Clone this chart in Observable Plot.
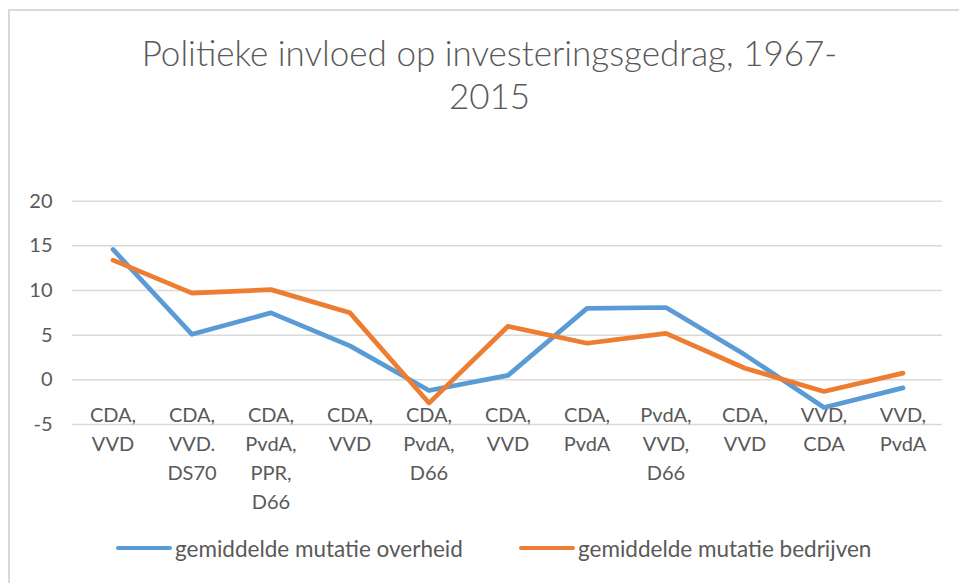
<!DOCTYPE html>
<html>
<head>
<meta charset="utf-8">
<script src="https://cdn.jsdelivr.net/npm/d3@7"></script>
<script src="https://cdn.jsdelivr.net/npm/@observablehq/plot@0.6"></script>
<style>
  html, body { margin: 0; padding: 0; background: #fff; }
  body { width: 959px; height: 583px; overflow: hidden; position: relative; font-family: Lato, "Open Sans", sans-serif; }
  #frame { position: absolute; left: 8px; top: 9px; width: 1000px; height: 700px; border: 2px solid #d9d9d9; box-sizing: border-box; }
  #title { position: absolute; left: 0; width: 979px; top: 31px; text-align: center; color: #595959; font-size: 35px; line-height: 43px; font-weight: 300; }
  #chart { position: absolute; left: 0; top: 0; }
  #legend { position: absolute; top: 535px; left: 0; width: 959px; height: 26px; color: #595959; font-size: 22.5px; }
  .item { position: absolute; top: 0; display: flex; align-items: center; height: 26px; white-space: nowrap; }
  .sw { display: inline-block; width: 56px; height: 4.5px; border-radius: 2px; margin-right: 3px; }
</style>
</head>
<body>
<div id="frame"></div>
<div id="title">Politieke invloed op investeringsgedrag, 1967-<br>2015</div>
<div id="chart"></div>
<div id="legend"></div>
<script>
// Coalitions (x categories, in order)
const coalitions = [
  "CDA,\nVVD",
  "CDA,\nVVD.\nDS70",
  "CDA,\nPvdA,\nPPR,\nD66",
  "CDA,\nVVD",
  "CDA,\nPvdA,\nD66",
  "CDA,\nVVD",
  "CDA,\nPvdA",
  "PvdA,\nVVD,\nD66",
  "CDA,\nVVD",
  "VVD,\nCDA",
  "VVD,\nPvdA"
];
const overheid  = [14.6, 5.1, 7.5, 3.8, -1.2, 0.5, 8.0, 8.1, 2.8, -3.1, -0.9];
const bedrijven = [13.4, 9.7, 10.1, 7.5, -2.6, 6.0, 4.1, 5.2, 1.3, -1.3, 0.75];
const seriesNames = ["gemiddelde mutatie overheid", "gemiddelde mutatie bedrijven"];
const seriesColors = ["#5b9bd5", "#ed7d31"];
const yTicks = [-5, 0, 5, 10, 15, 20];

const idx = d3.range(coalitions.length);
const rows = [
  ...idx.map(i => ({i, v: overheid[i], s: seriesNames[0]})),
  ...idx.map(i => ({i, v: bedrijven[i], s: seriesNames[1]}))
];

const chart = Plot.plot({
  width: 959,
  height: 583,
  marginLeft: 72,
  marginRight: 17,
  marginTop: 200.7,
  marginBottom: 159,
  style: { fontFamily: "Lato, 'Open Sans', sans-serif", background: "transparent", color: "#595959" },
  x: { type: "band", domain: idx, padding: 0, axis: null },
  y: { domain: [-5, 20], ticks: yTicks, label: null },
  color: { domain: seriesNames, range: seriesColors },
  marks: [
    Plot.gridY(yTicks, { stroke: "#d9d9d9", strokeOpacity: 1, strokeWidth: 1.5 }),
    Plot.axisY(yTicks, { tickSize: 0, tickPadding: 20, fontSize: 20, fill: "#595959", label: null, tickFormat: d => String(d) }),
    Plot.text(idx, {
      x: i => i, y: () => 0,
      text: i => coalitions[i],
      lineAnchor: "top", dy: 22, lineHeight: 1.45,
      fontSize: 20, fill: "#595959"
    }),
    Plot.line(rows, {
      x: "i", y: "v", z: "s", stroke: "s",
      strokeWidth: 4.7, strokeLinejoin: "round", strokeLinecap: "round"
    })
  ]
});
document.getElementById("chart").appendChild(chart);

// Legend
const legend = document.getElementById("legend");
const lefts = [116, 519];
seriesNames.forEach((name, k) => {
  const item = document.createElement("div");
  item.className = "item";
  item.style.left = lefts[k] + "px";
  const sw = document.createElement("span");
  sw.className = "sw";
  sw.style.background = seriesColors[k];
  item.appendChild(sw);
  item.appendChild(document.createTextNode(name));
  legend.appendChild(item);
});
</script>
</body>
</html>
